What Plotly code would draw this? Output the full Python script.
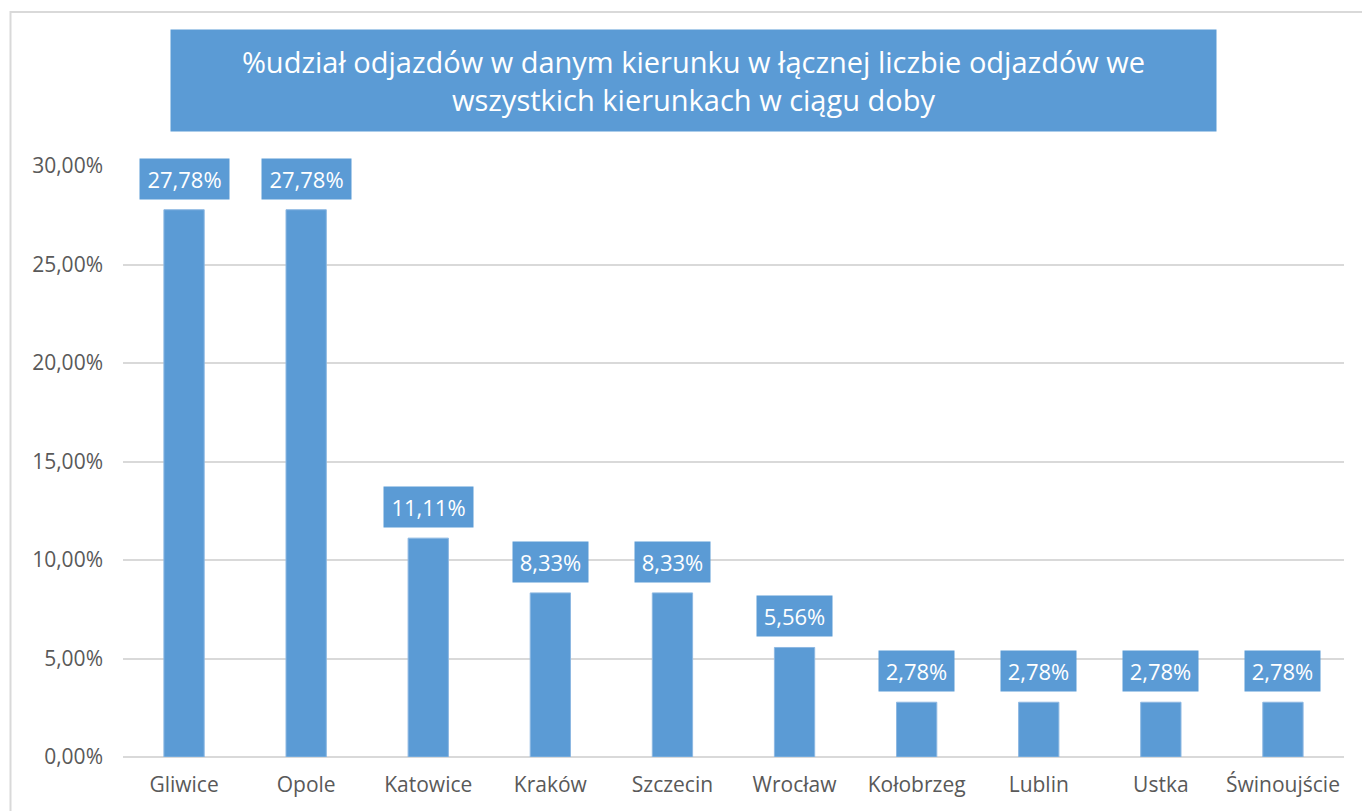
import plotly.graph_objects as go

categories = ["Gliwice", "Opole", "Katowice", "Kraków", "Szczecin", "Wrocław",
              "Kołobrzeg", "Lublin", "Ustka", "Świnoujście"]
shares = [0.2778, 0.2778, 0.1111, 0.0833, 0.0833, 0.0556, 0.0278, 0.0278, 0.0278, 0.0278]
y_ticks = [0, 0.05, 0.10, 0.15, 0.20, 0.25, 0.30]
title_lines = ["%udział odjazdów w danym kierunku w łącznej liczbie odjazdów we",
               "wszystkich kierunkach w ciągu doby"]

BLUE = "#5B9BD5"
GRID = "#D9D9D9"
TXT = "#595959"
FONT = "Open Sans"

W, H = 1362, 811
L, R, T, B = 123, 18, 166, 54
pw, ph = W - L - R, H - T - B

def px_x(p):
    return (p - L) / pw

def px_y(p):
    return (H - B - p) / ph

fig = go.Figure(go.Bar(
    x=categories, y=shares, marker=dict(color=BLUE, line=dict(color="#8DB8E2", width=1)),
    hoverinfo="x+y",
))

def fmt(v):
    return f"{v*100:.2f}".replace(".", ",") + "%"

annotations = []
for c, v in zip(categories, shares):
    t = fmt(v)
    annotations.append(dict(
        x=c, y=v, xref="x", yref="y", text=t, showarrow=False,
        yanchor="bottom", yshift=10, bgcolor=BLUE, borderpad=5,
        width=14 * len(t) - 5,
        font=dict(family=FONT, size=22, color="white"),
    ))

annotations.append(dict(
    x=px_x((172 + 1215) / 2), y=px_y((31 + 130) / 2), xref="paper", yref="paper",
    xanchor="center", yanchor="middle", showarrow=False,
    text="<br>".join(title_lines), width=1043, height=99, bgcolor=BLUE,
    font=dict(family=FONT, size=29, color="white"), align="center",
))

fig.update_layout(
    width=W, height=H, autosize=False,
    margin=dict(l=L, r=R, t=T, b=B, pad=0),
    paper_bgcolor="white", plot_bgcolor="white",
    separators=", ",
    bargap=0.67, showlegend=False,
    annotations=annotations,
    shapes=[dict(type="rect", xref="paper", yref="paper",
                 x0=px_x(10.5), x1=px_x(1375), y0=px_y(825), y1=px_y(12),
                 line=dict(color=GRID, width=2), fillcolor="rgba(0,0,0,0)", layer="below")],
    xaxis=dict(showgrid=False, zeroline=False, showline=False, ticks="",
               tickfont=dict(family=FONT, size=21, color=TXT), ticklabelstandoff=13),
    yaxis=dict(range=[0, 0.30], tickvals=y_ticks, tickformat=".2%", showgrid=True,
               gridcolor=GRID, gridwidth=1.5, zeroline=True, zerolinecolor=GRID,
               zerolinewidth=2, showline=False, ticks="",
               tickfont=dict(family=FONT, size=21, color=TXT), ticklabelstandoff=19),
)

fig.write_html("out.html", config={"displayModeBar": False})
with open("out.html", encoding="utf-8") as f:
    html = f.read()
html = html.replace("<body>", '<body style="margin:0;overflow:hidden">', 1)
with open("out.html", "w", encoding="utf-8") as f:
    f.write(html)
